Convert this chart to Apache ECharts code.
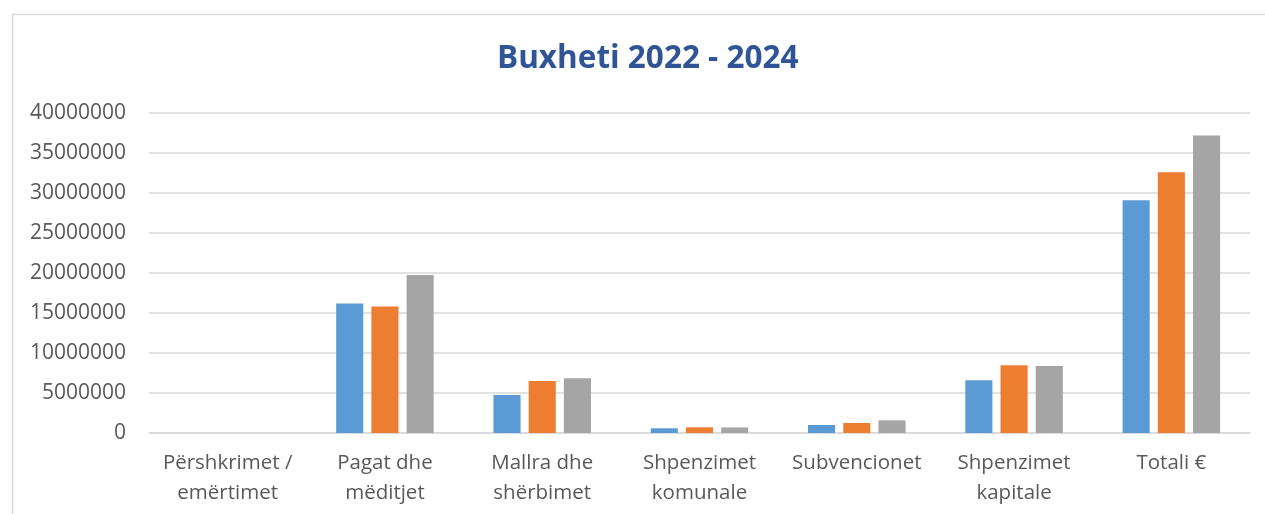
<!DOCTYPE html>
<html>
<head>
<meta charset="utf-8">
<script src="https://cdn.jsdelivr.net/npm/echarts@6/dist/echarts.min.js"></script>
<style>
html,body{margin:0;padding:0;background:#fff;}
#chart{width:1265px;height:514px;}
</style>
</head>
<body>
<div id="chart"></div>
<script>
const categories = ['Përshkrimet /\nemërtimet', 'Pagat dhe\nmëditjet', 'Mallra dhe\nshërbimet', 'Shpenzimet\nkomunale', 'Subvencionet', 'Shpenzimet\nkapitale', 'Totali €'];
const series2022 = [0, 16200000, 4750000, 590000, 1000000, 6580000, 29100000];
const series2023 = [0, 15800000, 6500000, 710000, 1250000, 8460000, 32600000];
const series2024 = [0, 19750000, 6840000, 700000, 1580000, 8380000, 37200000];
const seriesNames = ['2022', '2023', '2024'];
const yTicks = { min: 0, max: 40000000, interval: 5000000 };

const chart = echarts.init(document.getElementById('chart'));
const colors = ['#5B9BD5', '#ED7D31', '#A5A5A5'];
const font = 'Open Sans';
const data = [series2022, series2023, series2024];
chart.setOption({
  animation: false,
  backgroundColor: '#fff',
  title: {
    text: 'Buxheti 2022 - 2024',
    left: 492,
    top: 38,
    textStyle: { fontFamily: font, fontWeight: 'bold', fontSize: 31.5, color: '#2F5597' }
  },
  graphic: [{
    type: 'rect',
    shape: { x: 12.5, y: 14.5, width: 1300, height: 600 },
    style: { fill: 'none', stroke: '#D9D9D9', lineWidth: 1.5 },
    silent: true
  }],
  grid: { left: 149, right: 15, top: 113, bottom: 81 },
  xAxis: {
    type: 'category',
    data: categories,
    axisLine: { lineStyle: { color: '#D9D9D9', width: 1.5 } },
    axisTick: { show: false },
    axisLabel: { interval: 0, fontFamily: font, fontSize: 20.5, color: '#595959', lineHeight: 30, margin: 15 }
  },
  yAxis: {
    type: 'value',
    min: yTicks.min, max: yTicks.max, interval: yTicks.interval,
    axisLine: { show: false },
    axisTick: { show: false },
    splitLine: { lineStyle: { color: '#D9D9D9', width: 1.5 } },
    axisLabel: { fontFamily: font, fontSize: 21, color: '#595959', margin: 23, formatter: v => String(v) }
  },
  series: data.map((d, i) => ({
    name: seriesNames[i],
    type: 'bar',
    data: d,
    itemStyle: { color: colors[i] },
    barGap: '30%',
    barCategoryGap: '38%'
  }))
});
</script>
</body>
</html>
